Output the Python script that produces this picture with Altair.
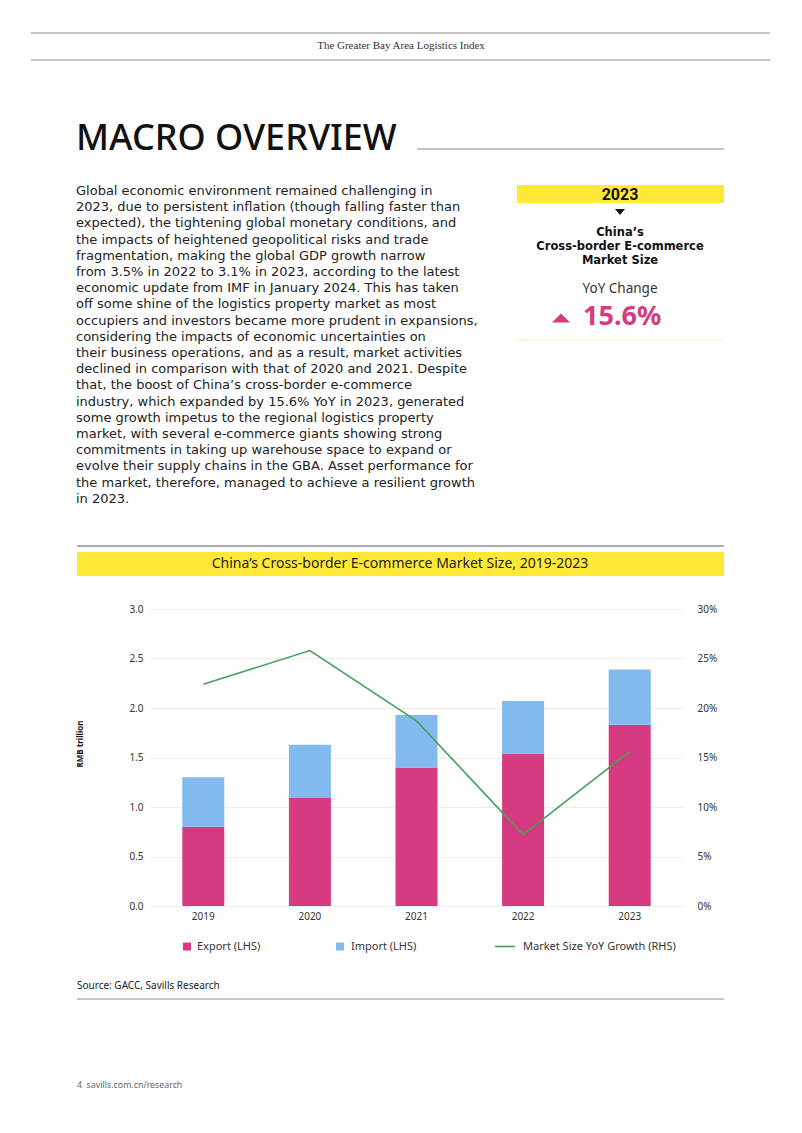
import altair as alt
import pandas as pd

# ---------------- data ----------------
years = ["2019", "2020", "2021", "2022", "2023"]
export_vals = [0.80, 1.09, 1.40, 1.54, 1.83]
import_vals = [0.50, 0.54, 0.53, 0.53, 0.56]
growth_vals = [0.224, 0.258, 0.187, 0.072, 0.156]
series_names = ["Export (LHS)", "Import (LHS)"]
line_name = "Market Size YoY Growth (RHS)"
left_ticks = [0.0, 0.5, 1.0, 1.5, 2.0, 2.5, 3.0]
right_ticks = [0.0, 0.05, 0.10, 0.15, 0.20, 0.25, 0.30]

paragraph = [
    "Global economic environment remained challenging in",
    "2023, due to persistent inflation (though falling faster than",
    "expected), the tightening global monetary conditions, and",
    "the impacts of heightened geopolitical risks and trade",
    "fragmentation, making the global GDP growth narrow",
    "from 3.5% in 2022 to 3.1% in 2023, according to the latest",
    "economic update from IMF in January 2024. This has taken",
    "off some shine of the logistics property market as most",
    "occupiers and investors became more prudent in expansions,",
    "considering the impacts of economic uncertainties on",
    "their business operations, and as a result, market activities",
    "declined in comparison with that of 2020 and 2021. Despite",
    "that, the boost of China\u2019s cross-border e-commerce",
    "industry, which expanded by 15.6% YoY in 2023, generated",
    "some growth impetus to the regional logistics property",
    "market, with several e-commerce giants showing strong",
    "commitments in taking up warehouse space to expand or",
    "evolve their supply chains in the GBA. Asset performance for",
    "the market, therefore, managed to achieve a resilient growth",
    "in 2023.",
]

# ---------------- styles ----------------
PINK = "#D63A81"
BLUE = "#82BAF0"
GREEN = "#4A9E5C"
YELLOW = "#FFE936"
SANS = "Noto Sans"
WIDE = "DejaVu Sans"
SERIF = "Liberation Serif"

W, H = 533, 297          # plot area
OX, OY = 150, 609        # plot origin on the page
PAGE_W, PAGE_H = 786, 1117


def px(x):
    return x - OX


def py(y):
    return y - OY


one = pd.DataFrame({"k": [0]})


def text(x, y, s, size, color="#222222", weight="normal", align="left",
         font=SANS, baseline="middle", angle=None, line_height=None):
    kw = dict(align=align, baseline=baseline, fontSize=size, fontWeight=weight,
              color=color, font=font)
    if angle is not None:
        kw["angle"] = angle
    if line_height is not None:
        kw["lineHeight"] = line_height
    return alt.Chart(one).mark_text(**kw).encode(
        x=alt.value(px(x)), y=alt.value(py(y)), text=alt.value(s))


def hrule(x1, x2, y, color, width=1.0):
    return alt.Chart(one).mark_rule(color=color, strokeWidth=width).encode(
        x=alt.value(px(x1)), x2=alt.value(px(x2)), y=alt.value(py(y)))


def rect(x1, x2, y1, y2, color):
    return alt.Chart(one).mark_rect(color=color).encode(
        x=alt.value(px(x1)), x2=alt.value(px(x2)),
        y=alt.value(py(y1)), y2=alt.value(py(y2)))


def symbol(x, y, shape, size, color):
    return alt.Chart(one).mark_point(shape=shape, size=size, filled=True,
                                     color=color, opacity=1, strokeWidth=0).encode(
        x=alt.value(px(x)), y=alt.value(py(y)))


# ---------------- main chart ----------------
bar_rows = []
for i, yr in enumerate(years):
    bar_rows.append({"year": yr, "series": series_names[0], "value": export_vals[i], "ord": 0})
    bar_rows.append({"year": yr, "series": series_names[1], "value": import_vals[i], "ord": 1})
bars_df = pd.DataFrame(bar_rows)
growth_df = pd.DataFrame({"year": years, "growth": growth_vals})

x_enc = alt.X("year:N", sort=years,
              scale=alt.Scale(paddingInner=0, paddingOuter=0),
              axis=alt.Axis(title=None, labelAngle=0, domain=False, ticks=False,
                            labelPadding=5, labelFontSize=10, labelColor="#333333",
                            labelFont=SANS, grid=False))

bars = alt.Chart(bars_df).mark_bar(size=42).encode(
    x=x_enc,
    y=alt.Y("value:Q", stack="zero",
            scale=alt.Scale(domain=[0, 3.0], nice=False),
            axis=alt.Axis(orient="left", title=None, values=left_ticks, format=".1f",
                          domain=False, ticks=False, labelPadding=7,
                          labelFontSize=10, labelColor="#333333", labelFont=SANS,
                          grid=True, gridColor="#EDEDED", gridWidth=1)),
    color=alt.Color("series:N", scale=alt.Scale(domain=series_names, range=[PINK, BLUE]),
                    legend=None),
    order=alt.Order("ord:Q"),
)

line = alt.Chart(growth_df).mark_line(color=GREEN, strokeWidth=1.6).encode(
    x=alt.X("year:N", sort=years),
    y=alt.Y("growth:Q",
            scale=alt.Scale(domain=[0, 0.30], nice=False),
            axis=alt.Axis(orient="right", title=None, values=right_ticks, format=".0%",
                          domain=False, ticks=False, labelPadding=14,
                          labelFontSize=10, labelColor="#333333", labelFont=SANS,
                          grid=False)),
)

# ---------------- page decorations ----------------
deco = [
    # header
    hrule(31, 770, 33, "#8A8A8A"),
    hrule(31, 770, 60, "#8A8A8A"),
    text(401, 46, "The Greater Bay Area Logistics Index", 11, color="#333333",
         align="center", font=SERIF),
    # section title
    text(76, 139, "MACRO OVERVIEW", 36, color="#111111", weight=500),
    hrule(417, 724, 149, "#8A8A8A"),
    # body paragraph
    text(76, 195, paragraph, 13, color="#222222", baseline="alphabetic",
         line_height=16.2, font=WIDE),
    # key figure box
    rect(517, 724, 185, 203, YELLOW),
    text(620, 194.5, "2023", 16, color="#111111", weight="bold", align="center",
         font="Roboto"),
    symbol(620, 212, "M-1,-0.6L1,-0.6L0,0.6Z", 100, "#111111"),
    text(620, 233, "China\u2019s", 11.5, color="#111111", weight="bold",
         align="center", font=WIDE),
    text(620, 247, "Cross-border E-commerce", 11.5, color="#111111", weight="bold",
         align="center", font=WIDE),
    text(620, 261, "Market Size", 11.5, color="#111111", weight="bold",
         align="center", font=WIDE),
    text(620, 289, "YoY Change", 13.5, color="#333333", align="center"),
    symbol(561, 318, "M-1,0.5L1,0.5L0,-0.5Z", 324, PINK),
    text(583, 317, "15.6%", 27, color=PINK, weight="bold", align="left"),
    hrule(517, 724, 340, "#F8F0B0"),
    # chart header
    hrule(77, 724, 546, "#5A5A66"),
    rect(77, 724, 552, 576, YELLOW),
    text(400, 564, "China\u2019s Cross-border E-commerce Market Size, 2019-2023", 14,
         color="#222222", align="center"),
    # y title
    text(81, 744, "RMB trillion", 8, color="#111111", weight="bold", align="center",
         angle=270),
    # legend
    symbol(187, 946.5, "square", 64, PINK),
    text(197, 946.5, series_names[0], 11, color="#333333"),
    symbol(340, 946.5, "square", 64, BLUE),
    text(351, 946.5, series_names[1], 11, color="#333333"),
    hrule(495, 515, 946.5, GREEN, 1.6),
    text(523, 946.5, line_name, 11, color="#333333"),
    # source
    text(77, 986, "Source: GACC, Savills Research", 10, color="#222222"),
    hrule(77, 724, 999, "#8A8A8A"),
    # footer
    text(77, 1085, "4\u00a0\u00a0savills.com.cn/research", 8.8, color="#666666"),
]

chart = alt.layer(bars, line, *deco).resolve_scale(y="independent").properties(
    width=W, height=H,
    autosize=alt.AutoSizeParams(type="none"),
    padding={"left": OX - 8, "top": OY - 8,
             "right": PAGE_W - (OX - 8) - W, "bottom": PAGE_H - (OY - 8) - H},
    background="white",
).configure_view(stroke=None)

chart.save("out.html", embed_options={"renderer": "svg", "actions": False})
